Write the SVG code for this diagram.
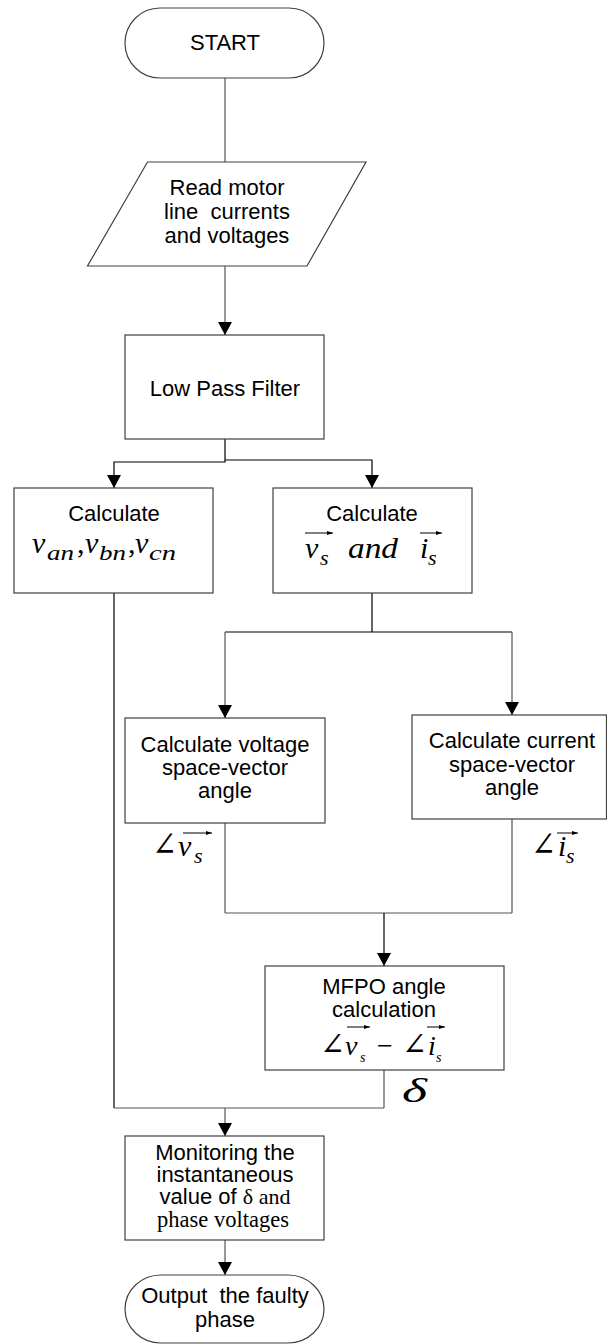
<svg xmlns="http://www.w3.org/2000/svg" width="607" height="1344" viewBox="0 0 607 1344">
<style>
.box{fill:#fff;stroke:#404040;stroke-width:1.2}
.t{font-family:"Liberation Sans",Arial,sans-serif;font-size:22px;fill:#000;text-anchor:middle}
.m{font-family:"Liberation Serif","Times New Roman","DejaVu Serif",serif;font-style:italic;fill:#000}
.ms{font-family:"Liberation Serif","Times New Roman","DejaVu Serif",serif;fill:#000}
.c{fill:none;stroke:#555;stroke-width:1.2}
.k{fill:none;stroke:#000;stroke-width:1.2}
.vec{fill:none;stroke:#000;stroke-width:1}
</style>
<defs>
<marker id="ah" markerUnits="userSpaceOnUse" markerWidth="14" markerHeight="14" refX="13" refY="7" orient="auto">
<path d="M0,0 L13,7 L0,14 Z" fill="#000"/>
</marker>
<marker id="va" markerUnits="userSpaceOnUse" markerWidth="6" markerHeight="4" refX="6" refY="2" orient="auto">
<path d="M0,0 L6,2 L0,4 Z" fill="#000"/>
</marker>
</defs>
<rect width="607" height="1344" fill="#fff"/>

<g id="connectors">
<line class="c" x1="225" y1="78" x2="225" y2="162"/>
<line class="c" x1="225" y1="266" x2="225" y2="335" marker-end="url(#ah)"/>
<polyline class="k" points="225,439 225,462 114,462 114,488" marker-end="url(#ah)"/>
<polyline class="k" points="225,460 372,460 372,488" marker-end="url(#ah)"/>
<line class="k" x1="372" y1="593" x2="372" y2="632"/>
<line class="k" x1="225" y1="632" x2="512" y2="632"/>
<line class="c" x1="225" y1="632" x2="225" y2="718" marker-end="url(#ah)"/>
<line class="c" x1="512" y1="632" x2="512" y2="715" marker-end="url(#ah)"/>
<line class="c" x1="225" y1="823" x2="225" y2="913"/>
<line class="c" x1="512" y1="819" x2="512" y2="913"/>
<line class="c" x1="225" y1="913" x2="512" y2="913"/>
<line class="k" x1="384" y1="913" x2="384" y2="966" marker-end="url(#ah)"/>
<line class="c" x1="384" y1="1070" x2="384" y2="1108"/>
<line class="k" x1="114" y1="593" x2="114" y2="1108"/>
<line class="c" x1="114" y1="1108" x2="384" y2="1108"/>
<line class="c" x1="225" y1="1108" x2="225" y2="1136" marker-end="url(#ah)"/>
<line class="c" x1="225" y1="1240" x2="225" y2="1275" marker-end="url(#ah)"/>
</g>

<g id="start">
<rect class="box" x="125" y="8" width="199" height="70" rx="35" ry="35"/>
<text class="t" x="225" y="50">START</text>
</g>

<g id="read">
<polygon class="box" points="147.5,162 366,162 307,266 87.5,266"/>
<text class="t" xml:space="preserve"><tspan x="227" y="195">Read motor</tspan><tspan x="227" y="219">line  currents</tspan><tspan x="227" y="243">and voltages</tspan></text>
</g>

<g id="lpf">
<rect class="box" x="125" y="335" width="199" height="104"/>
<text class="t" x="225" y="396">Low Pass Filter</text>
</g>

<g id="calc-phase">
<rect class="box" x="14" y="488" width="199" height="105"/>
<text class="t" x="114" y="521">Calculate</text>
<text class="m" font-size="30"><tspan x="32" y="553">v</tspan><tspan x="47" y="560" font-size="21" textLength="27" lengthAdjust="spacingAndGlyphs">an</tspan><tspan x="77" y="553" font-style="normal">,</tspan><tspan x="85" y="553">v</tspan><tspan x="99" y="560" font-size="21" textLength="27" lengthAdjust="spacingAndGlyphs">bn</tspan><tspan x="128" y="553" font-style="normal">,</tspan><tspan x="135" y="553">v</tspan><tspan x="149" y="560" font-size="21" textLength="27" lengthAdjust="spacingAndGlyphs">cn</tspan></text>
</g>

<g id="calc-vec">
<rect class="box" x="273" y="488" width="199" height="105"/>
<text class="t" x="372" y="521">Calculate</text>
<text class="m" font-size="30"><tspan x="305" y="558">v</tspan><tspan x="320" y="565" font-size="22">s</tspan><tspan x="348" y="558" textLength="50" lengthAdjust="spacingAndGlyphs">and</tspan><tspan x="420" y="558">i</tspan><tspan x="428" y="565" font-size="22">s</tspan></text>
<line class="vec" x1="305" y1="533" x2="333" y2="533" marker-end="url(#va)"/>
<line class="vec" x1="420" y1="533" x2="442" y2="533" marker-end="url(#va)"/>
</g>

<g id="volt-angle">
<rect class="box" x="125" y="718" width="200" height="105"/>
<text class="t"><tspan x="225" y="752">Calculate voltage</tspan><tspan x="225" y="775">space-vector</tspan><tspan x="225" y="798">angle</tspan></text>
</g>

<g id="curr-angle">
<rect class="box" x="412" y="715" width="194.5" height="104"/>
<text class="t"><tspan x="512" y="748">Calculate current</tspan><tspan x="512" y="772">space-vector</tspan><tspan x="512" y="795">angle</tspan></text>
</g>

<g id="label-v">
<text class="m" font-size="30"><tspan x="152" y="856" font-style="normal" font-size="34" textLength="25" lengthAdjust="spacingAndGlyphs">∠</tspan><tspan x="178" y="856">v</tspan><tspan x="194" y="863" font-size="22">s</tspan></text>
<line class="vec" x1="183" y1="833" x2="212" y2="833" marker-end="url(#va)"/>
</g>

<g id="label-i">
<text class="m" font-size="30"><tspan x="531" y="856" font-style="normal" font-size="34" textLength="25" lengthAdjust="spacingAndGlyphs">∠</tspan><tspan x="558" y="856">i</tspan><tspan x="566" y="863" font-size="22">s</tspan></text>
<line class="vec" x1="557" y1="833" x2="578" y2="833" marker-end="url(#va)"/>
</g>

<g id="mfpo">
<rect class="box" x="265" y="966" width="239" height="104"/>
<text class="t"><tspan x="384" y="994">MFPO angle</tspan><tspan x="384" y="1017">calculation</tspan></text>
<text class="m" font-size="28"><tspan x="320" y="1055" font-style="normal" font-size="32" textLength="25" lengthAdjust="spacingAndGlyphs">∠</tspan><tspan x="345" y="1055">v</tspan><tspan x="360" y="1062" font-size="14">s</tspan><tspan x="377" y="1055" font-style="normal">−</tspan><tspan x="402" y="1055" font-style="normal" font-size="32" textLength="25" lengthAdjust="spacingAndGlyphs">∠</tspan><tspan x="428" y="1055">i</tspan><tspan x="436" y="1062" font-size="14">s</tspan></text>
<line class="vec" x1="347" y1="1027" x2="370" y2="1027" marker-end="url(#va)"/>
<line class="vec" x1="427" y1="1027" x2="445" y2="1027" marker-end="url(#va)"/>
</g>

<g id="label-delta">
<text class="m" x="402" y="1102" font-size="34" textLength="25" lengthAdjust="spacingAndGlyphs">δ</text>
</g>

<g id="monitor">
<rect class="box" x="125" y="1136" width="199" height="104"/>
<text class="t" font-size="21.5"><tspan x="225" y="1160">Monitoring the</tspan><tspan x="225" y="1182">instantaneous</tspan><tspan x="225" y="1204">value of <tspan class="ms" font-size="22">δ and</tspan></tspan><tspan x="223" y="1227" class="ms" font-size="22.5">phase voltages</tspan></text>
</g>

<g id="output">
<rect class="box" x="125" y="1275" width="199" height="68" rx="36" ry="34"/>
<text class="t" xml:space="preserve"><tspan x="225" y="1303">Output  the faulty</tspan><tspan x="225" y="1327">phase</tspan></text>
</g>
</svg>
